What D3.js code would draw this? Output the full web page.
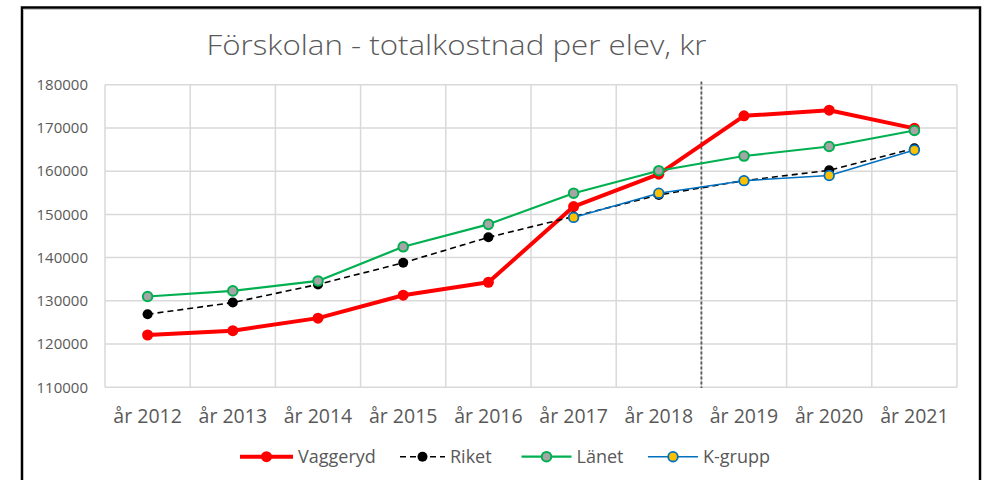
<!DOCTYPE html>
<html>
<head>
<meta charset="utf-8">
<script src="https://cdn.jsdelivr.net/npm/d3@7"></script>
<style>
  body { margin: 0; background: #fff; }
  svg { display: block; font-family: "Open Sans", sans-serif; }
</style>
</head>
<body>
<svg id="chart" width="986" height="480"></svg>
<script>
// data
var years = ["år 2012", "år 2013", "år 2014", "år 2015", "år 2016", "år 2017", "år 2018", "år 2019", "år 2020", "år 2021"];
var vaggeryd = [122100, 123100, 126000, 131300, 134300, 151800, 159300, 172800, 174100, 169900];
var riket = [126900, 129600, 133800, 138800, 144700, 149500, 154500, 157800, 160200, 165300];
var lanet = [131000, 132300, 134600, 142500, 147700, 154900, 160100, 163500, 165700, 169400];
var kgrupp = [null, null, null, null, null, 149300, 154900, 157800, 159000, 164900];
var yTicks = [110000, 120000, 130000, 140000, 150000, 160000, 170000, 180000];
var markerYear = "år 2019"; // dotted divider sits before this year

var svg = d3.select("#chart");
var textColor = "#595959";
var font = "'Open Sans', sans-serif";

// outer frame
svg.append("rect")
  .attr("x", 22).attr("y", 7.5)
  .attr("width", 958).attr("height", 490)
  .attr("fill", "none").attr("stroke", "#000").attr("stroke-width", 2.5);
svg.append("line").attr("x1", 23).attr("x2", 978.5).attr("y1", 9.5).attr("y2", 9.5)
  .attr("stroke", "#c8c8c8").attr("stroke-width", 1);
svg.append("line").attr("x1", 978.5).attr("x2", 978.5).attr("y1", 9.5).attr("y2", 480)
  .attr("stroke", "#c8c8c8").attr("stroke-width", 1);

// scales
var x = d3.scaleBand().domain(years).range([105, 957]).padding(0);
var y = d3.scaleLinear().domain([110000, 180000]).range([387.3, 84.7]);
var cx = function (d, i) { return x(years[i]) + x.bandwidth() / 2; };

// grid
var grid = svg.append("g").attr("stroke", "#d9d9d9").attr("stroke-width", 1.5);
grid.selectAll(".hg").data(yTicks).enter().append("line")
  .attr("x1", 105).attr("x2", 957)
  .attr("y1", function (d) { return y(d); }).attr("y2", function (d) { return y(d); });
grid.selectAll(".vg").data(years.concat(["end"])).enter().append("line")
  .attr("x1", function (d) { return d == "end" ? 957 : x(d); })
  .attr("x2", function (d) { return d == "end" ? 957 : x(d); })
  .attr("y1", y(180000)).attr("y2", y(110000));

// dotted divider
svg.append("line")
  .attr("x1", x(markerYear)).attr("x2", x(markerYear))
  .attr("y1", 81.5).attr("y2", 388)
  .attr("stroke", "#595959").attr("stroke-width", 1.8).attr("stroke-dasharray", "3,2");

// axes
var yAxis = svg.append("g").attr("transform", "translate(105,0)")
  .call(d3.axisLeft(y).tickValues(yTicks).tickSize(0).tickPadding(17).tickFormat(d3.format("d")))
  .attr("font-family", font).attr("font-size", 15);
yAxis.select(".domain").remove();
yAxis.selectAll("text").attr("fill", textColor);

var xAxis = svg.append("g").attr("transform", "translate(0," + y(110000) + ")")
  .call(d3.axisBottom(x).tickSize(0).tickPadding(22))
  .attr("font-family", font).attr("font-size", 19.5);
xAxis.select(".domain").remove();
xAxis.selectAll("text").attr("fill", textColor);

// title
svg.append("text")
  .attr("x", 206.5).attr("y", 55)
  .attr("fill", textColor)
  .attr("font-family", font)
  .style("font-size", "28px").style("font-weight", 300)
  .attr("textLength", 500).attr("lengthAdjust", "spacingAndGlyphs")
  .text("Förskolan - totalkostnad per elev, kr");

// series
var series = [
  { name: "Vaggeryd", values: vaggeryd, color: "#ff0000", width: 4, dash: null, r: 5.5, fill: "#ff0000", mstroke: "#ff0000", mw: 0 },
  { name: "Riket", values: riket, color: "#000", width: 1.6, dash: "6,4", r: 5, fill: "#000", mstroke: "#000", mw: 0 },
  { name: "Länet", values: lanet, color: "#00b050", width: 2.2, dash: null, r: 4.8, fill: "#a5a5a5", mstroke: "#00b050", mw: 2 },
  { name: "K-grupp", values: kgrupp, color: "#0070c0", width: 1.6, dash: null, r: 4.8, fill: "#ffc000", mstroke: "#0070c0", mw: 1.8 }
];

var line = d3.line()
  .defined(function (d) { return d != null; })
  .x(cx)
  .y(function (d) { return y(d); });

series.forEach(function (s) {
  var g = svg.append("g");
  g.append("path")
    .datum(s.values)
    .attr("d", line)
    .attr("fill", "none")
    .attr("stroke", s.color)
    .attr("stroke-width", s.width)
    .attr("stroke-dasharray", s.dash)
    .attr("stroke-linejoin", "round");
  g.selectAll("circle")
    .data(s.values.map(function (v, i) { return { v: v, i: i }; }).filter(function (d) { return d.v != null; }))
    .enter().append("circle")
    .attr("cx", function (d) { return cx(null, d.i); })
    .attr("cy", function (d) { return y(d.v); })
    .attr("r", s.r)
    .attr("fill", s.fill)
    .attr("stroke", s.mstroke)
    .attr("stroke-width", s.mw);
});

// legend
var legendX = [240, 400, 521.5, 648];
var legendLen = [53, 45, 50, 50];
var ly = 456.7;
series.forEach(function (s, i) {
  var lg = svg.append("g").attr("transform", "translate(" + legendX[i] + "," + ly + ")");
  lg.append("line")
    .attr("x1", 0).attr("x2", legendLen[i]).attr("y1", 0).attr("y2", 0)
    .attr("stroke", s.color).attr("stroke-width", s.width)
    .attr("stroke-dasharray", s.dash ? "6,4" : null);
  lg.append("circle")
    .attr("cx", legendLen[i] / 2).attr("cy", 0).attr("r", s.r)
    .attr("fill", s.fill).attr("stroke", s.mstroke).attr("stroke-width", s.mw);
  lg.append("text")
    .attr("x", legendLen[i] + 5).attr("y", 6.2)
    .attr("fill", textColor).attr("font-family", font).style("font-size", "18px")
    .text(s.name);
});
</script>
</body>
</html>
